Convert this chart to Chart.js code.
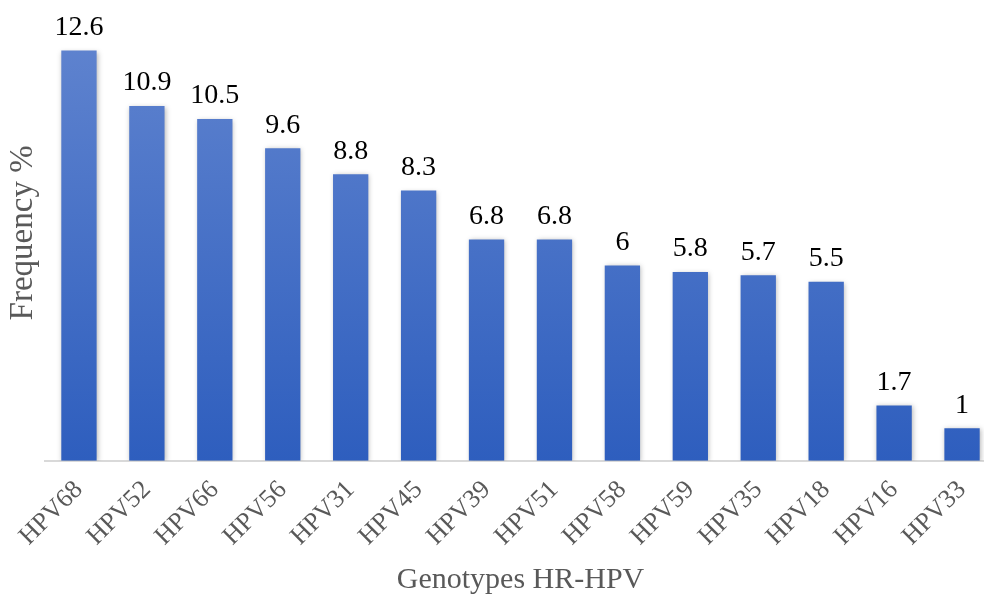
<!DOCTYPE html>
<html>
<head>
<meta charset="utf-8">
<script src="https://cdn.jsdelivr.net/npm/chart.js@4/dist/chart.umd.min.js"></script>
<style>
  html, body { margin: 0; padding: 0; overflow: hidden; background: #fff; }
  #wrap { position: absolute; left: 0; top: 0; width: 1000px; height: 596px; }
</style>
</head>
<body>
<div id="wrap"><canvas id="hpvChart"></canvas></div>
<script>
// genotypes and their frequency (%)
const genotypes = ['HPV68', 'HPV52', 'HPV66', 'HPV56', 'HPV31', 'HPV45', 'HPV39',
                   'HPV51', 'HPV58', 'HPV59', 'HPV35', 'HPV18', 'HPV16', 'HPV33'];
const frequency = [12.6, 10.9, 10.5, 9.6, 8.8, 8.3, 6.8, 6.8, 6, 5.8, 5.7, 5.5, 1.7, 1];
const valueLabels = ['12.6', '10.9', '10.5', '9.6', '8.8', '8.3', '6.8', '6.8', '6', '5.8', '5.7', '5.5', '1.7', '1'];

const serif = '"Liberation Serif", "DejaVu Serif", serif';

// vertical gradient for every bar: lighter at the top, deeper blue at the base
function barFill(context) {
    const chart = context.chart;
    const area = chart.chartArea;
    if (!area) return '#4472c4';
    const el = context.element;
    const yTop = el && el.y != null ? el.y : area.top;
    const yBot = el && el.base != null ? el.base : area.bottom;
    if (!isFinite(yTop) || !isFinite(yBot) || yTop === yBot) return '#4472c4';
    const g = chart.ctx.createLinearGradient(0, yTop, 0, yBot);
    g.addColorStop(0, '#6386d0');
    g.addColorStop(1, '#2e5ebe');
    return g;
}

// soft shadow behind bars, like the office chart
const barShadow = {
    id: 'barShadow',
    beforeDatasetsDraw(chart) {
        const ctx = chart.ctx;
        ctx.save();
        ctx.shadowColor = 'rgba(0,0,0,0.28)';
        ctx.shadowBlur = 5;
        ctx.shadowOffsetX = 1;
        ctx.shadowOffsetY = 1;
    },
    afterDatasetsDraw(chart) {
        chart.ctx.restore();
    }
};

// value written above each bar
const barValues = {
    id: 'barValues',
    afterDatasetsDraw(chart) {
        const ctx = chart.ctx;
        const meta = chart.getDatasetMeta(0);
        ctx.save();
        ctx.font = '28px ' + serif;
        ctx.fillStyle = '#000';
        ctx.textAlign = 'center';
        ctx.textBaseline = 'bottom';
        meta.data.forEach((bar, i) => {
            ctx.fillText(valueLabels[i], bar.x, bar.y - 9);
        });
        ctx.restore();
    }
};

const ctx = document.getElementById('hpvChart').getContext('2d');
const chart = new Chart(ctx, {
    type: 'bar',
    data: {
        labels: genotypes,
        datasets: [{
            data: frequency,
            backgroundColor: barFill,
            borderWidth: 0,
            barPercentage: 0.52,
            categoryPercentage: 1.0
        }]
    },
    options: {
        responsive: true,
        maintainAspectRatio: false,
        animation: false,
        devicePixelRatio: 1,
        layout: { padding: { left: 7, right: 4, top: 5, bottom: -2 } },
        plugins: {
            legend: { display: false },
            tooltip: { enabled: false }
        },
        scales: {
            x: {
                grid: { display: false },
                border: { display: true, color: '#d9d9d9', width: 2 },
                ticks: {
                    color: '#595959',
                    font: { family: serif, size: 26 },
                    minRotation: 45,
                    maxRotation: 45,
                    padding: 6
                },
                title: {
                    display: true,
                    text: 'Genotypes HR-HPV',
                    color: '#595959',
                    font: { family: serif, size: 30 },
                    padding: { top: 4, bottom: 0 }
                }
            },
            y: {
                min: 0,
                max: 14,
                grid: { display: false, drawTicks: false },
                border: { display: false },
                ticks: { display: false },
                title: {
                    display: true,
                    text: 'Frequency %',
                    color: '#595959',
                    font: { family: serif, size: 33, lineHeight: 1 },
                    padding: { top: 0, bottom: 5 }
                }
            }
        }
    },
    plugins: [barShadow, barValues]
});
</script>
</body>
</html>
